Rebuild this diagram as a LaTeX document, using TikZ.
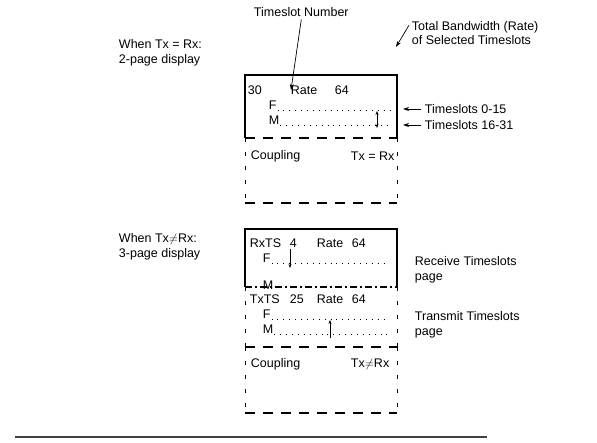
\documentclass[tikz,border=0pt]{standalone}
\usepackage{fontspec}
\setmainfont{Liberation Sans}
\usetikzlibrary{arrows.meta}
\begin{document}
\begin{tikzpicture}[x=1pt, y=-1pt, yscale=1, xscale=1,
  font=\fontsize{12.5}{14.5}\selectfont,
  lbl/.style={anchor=west, inner sep=0.75pt},
  pgline/.style={line width=1.1pt},
  pgdash/.style={line width=1.1pt, dash pattern=on 10pt off 8pt},
  pgside/.style={line width=1pt, dash pattern=on 4pt off 10pt},
  pgsep/.style={line width=1.1pt, dash pattern=on 7pt off 3pt on 2pt off 3pt},
  slotrow/.style={line width=1.1pt, dash pattern=on 0.9pt off 5pt},
  ptr/.style={line width=0.7pt, -{Stealth[length=6pt, width=4pt]}},
  mark2/.style={line width=0.6pt, {Stealth[length=4pt, width=3pt]}-{Stealth[length=4pt, width=3pt]}},
  mark1/.style={line width=0.6pt, -{Stealth[length=4pt, width=3pt]}}]
\useasboundingbox (0,0) rectangle (597,443);
%Outline, 2-page display
\coordinate (anw) at (245, 75);
\coordinate (ane) at (397, 75);
\coordinate (asw) at (245, 138);
\coordinate (ase) at (397, 138);
\coordinate (abl) at (245, 203);
\coordinate (abr) at (397, 203);
\draw [pgline] (asw) -- (anw) -- (ane) -- (ase);
\draw [pgdash] (asw) -- (ase);
\draw [pgside] (asw) -- (abl);
\draw [pgside] (ase) -- (abr);
\draw [pgdash] (abl) -- (abr);
%Outline, 3-page display
\coordinate (bnw) at (245, 229);
\coordinate (bne) at (397, 229);
\coordinate (bsw) at (245, 287);
\coordinate (bse) at (397, 287);
\coordinate (cdw) at (245, 347);
\coordinate (cde) at (397, 347);
\coordinate (bbl) at (245, 413);
\coordinate (bbr) at (397, 413);
\draw [pgline] (bsw) -- (bnw) -- (bne) -- (bse);
\draw [pgside] (bsw) -- (cdw);
\draw [pgside] (bse) -- (cde);
\draw [pgdash] (cdw) -- (cde);
\draw [pgside] (cdw) -- (bbl);
\draw [pgside] (cde) -- (bbr);
\draw [pgdash] (bbl) -- (bbr);
%Text, left
\draw (118, 53) node [lbl][align=left] (eqtxt) {When Tx = Rx:\\2-page display};
\draw (118, 247) node [lbl][align=left] (netxt) {When Tx$\neq$Rx:\\3-page display};
%Text, 2-page display
\draw (247, 90) node [lbl] (anum) {30};
\draw (290, 90) node [lbl] (arate) {Rate};
\draw (334, 90) node [lbl] (aval) {64};
\draw (268, 105) node [lbl] (af) {F};
\draw (268, 120) node [lbl] (am) {M};
\coordinate (afend) at (390, 106);
\coordinate (amend) at (390, 121);
\draw [slotrow] (af.south east) -- (afend |- af.south east);
\draw [slotrow] (am.south east) -- (amend |- am.south east);
\coordinate (aup) at (377, 111);
\coordinate (adn) at (377, 128);
\draw [mark2] (aup) -- (adn);
\draw (250, 156) node [lbl] (acpl) {Coupling};
\draw (350, 156) node [lbl] (aeq) {Tx = Rx};
%Text, 3-page display
\draw (249, 243) node [lbl] (rxts) {RxTS};
\draw (289, 243) node [lbl] (rxnum) {4};
\draw (316, 243) node [lbl] (rxrate) {Rate};
\draw (351, 243) node [lbl] (rxval) {64};
\draw (262, 258) node [lbl] (rxf) {F};
\coordinate (rxfend) at (388, 258);
\draw [slotrow] (rxf.south east) -- (rxfend |- rxf.south east);
\coordinate (rxtop) at (290, 249);
\coordinate (rxbot) at (290, 268);
\draw [mark1] (rxtop) -- (rxbot);
\draw [pgsep] (bsw) -- (bse);
\draw (262, 285) node [lbl] (rxm) {M};
\draw (249, 299) node [lbl] (txts) {TxTS};
\draw (289, 299) node [lbl] (txnum) {25};
\draw (316, 299) node [lbl] (txrate) {Rate};
\draw (351, 299) node [lbl] (txval) {64};
\draw (262, 314) node [lbl] (txf) {F};
\draw (262, 329) node [lbl] (txm) {M};
\coordinate (txfend) at (388, 314);
\coordinate (txmend) at (388, 329);
\draw [slotrow] (txf.south east) -- (txfend |- txf.south east);
\draw [slotrow] (txm.south east) -- (txmend |- txm.south east);
\coordinate (txbot) at (330, 338);
\coordinate (txtop) at (330, 320);
\draw [mark1] (txbot) -- (txtop);
\draw (250, 364) node [lbl] (bcpl) {Coupling};
\draw (350, 364) node [lbl] (bne2) {Tx$\neq$Rx};
%Text, right
\draw (253, 12) node [lbl] (tsnum) {Timeslot Number};
\coordinate (tsnumtip) at (291, 90);
\draw [ptr] (tsnum.south) ++(0,2) -- (tsnumtip);
\draw (411, 33) node [lbl][align=left] (totbw) {Total Bandwidth (Rate)\\of Selected Timeslots};
\coordinate (totbwtip) at (396, 47);
\draw [ptr] ([xshift=-2pt, yshift=-5pt]totbw.north west) -- (totbwtip);
\draw (424, 109) node [lbl] (ts015) {Timeslots 0-15};
\draw (424, 125) node [lbl] (ts1631) {Timeslots 16-31};
\coordinate (ts015tip) at (403, 109);
\coordinate (ts1631tip) at (403, 125);
\draw [ptr] (ts015.west) ++(-3,0) -- (ts015tip);
\draw [ptr] (ts1631.west) ++(-3,0) -- (ts1631tip);
\draw (414, 270) node [lbl][align=left] (rxpage) {Receive Timeslots\\page};
\draw (414, 325) node [lbl][align=left] (txpage) {Transmit Timeslots\\page};
%Rule
\coordinate (rulel) at (15, 437);
\coordinate (ruler) at (487, 437);
\draw [line width=1.8pt, black!75] (rulel) -- (ruler);
\end{tikzpicture}
\end{document}
